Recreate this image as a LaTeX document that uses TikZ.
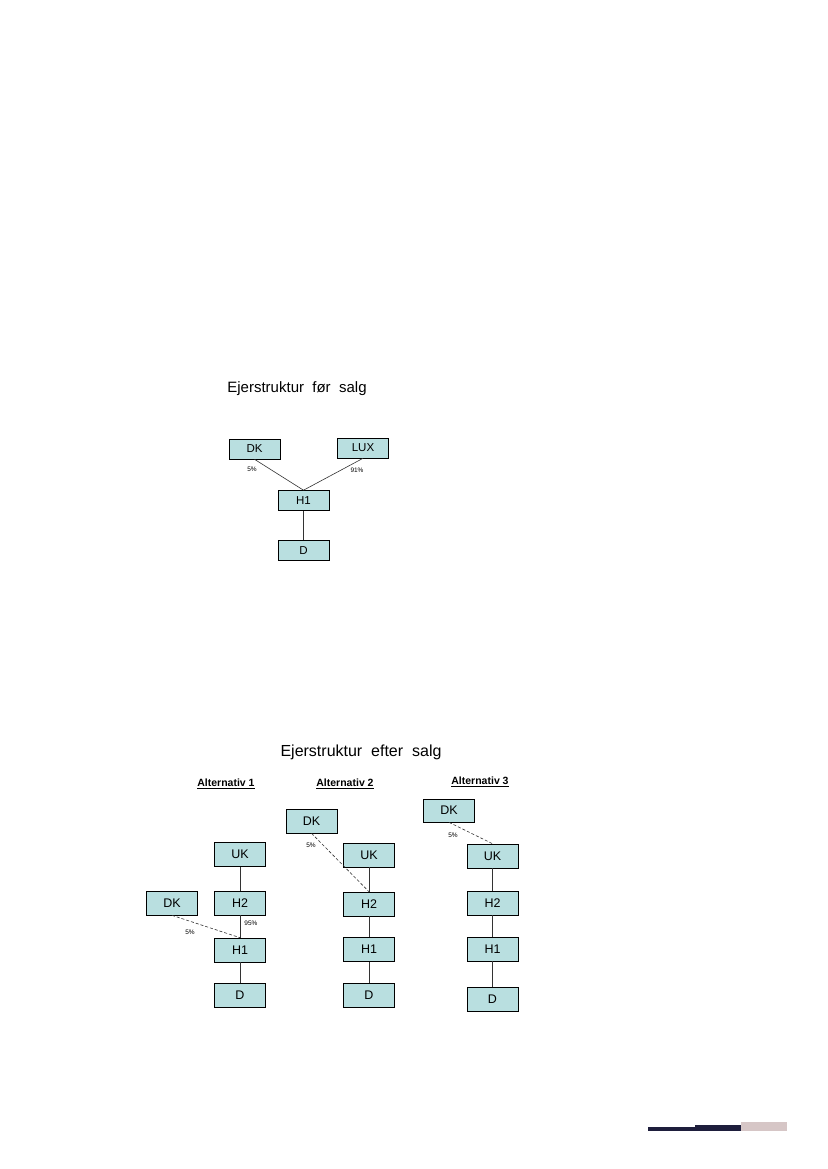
\documentclass[tikz,border=0pt]{standalone}
\usepackage{fontspec}
\setmainfont{Liberation Sans}
\begin{document}
\begin{tikzpicture}[x=1pt,y=-1pt,
  box/.style={draw=black,line width=0.6pt,fill=boxfill,minimum width=51pt,minimum height=20pt,inner sep=0pt,font=\fontsize{11.5}{13}\selectfont},
  bigbox/.style={box,minimum height=24pt,font=\fontsize{12.5}{14}\selectfont},
  link/.style={draw=black!80,line width=0.6pt},
  dlink/.style={link,dashed,dash pattern=on 3pt off 2pt},
  pct/.style={font=\fontsize{6.5}{7}\selectfont,inner sep=0pt},
  alt/.style={font=\bfseries\fontsize{10.5}{12}\selectfont,inner sep=0pt},
  title/.style={font=\fontsize{15}{17}\selectfont,inner sep=0pt}]
\definecolor{boxfill}{HTML}{B9DFE0}
\definecolor{navy}{HTML}{1E1E3C}
\definecolor{rose}{HTML}{D6C6C6}
\useasboundingbox[fill=white] (0,0) rectangle (827,1169);

% Top diagram
\node[title] (t1) at (297,389) {Ejerstruktur\ \ før\ \ salg};
\node[box] (dk0) at (254.5,449) {DK};
\node[box] (lux) at (363,448) {LUX};
\node[box] (h10) at (303.5,500.5) {H1};
\node[box] (d0) at (303.5,550.5) {D};
\draw[link] (dk0.south) -- (h10.north);
\draw[link] (lux.south) -- (h10.north);
\draw[link] (h10) -- (d0);
\node[pct] (p1) at (252,469) {5\%};
\node[pct] (p2) at (357,470) {91\%};

% Bottom diagram
\node[title,font=\fontsize{16}{18}\selectfont] (t2) at (361,752) {Ejerstruktur\ \ efter\ \ salg};
\node[alt] (a1) at (226,784) {\underline{Alternativ 1}};
\node[alt] (a2) at (345,784) {\underline{Alternativ 2}};
\node[alt] (a3) at (480,782) {\underline{Alternativ 3}};

% Alternativ 1
\node[bigbox] (uk1) at (240,854.5) {UK};
\node[bigbox] (h21) at (240,903) {H2};
\node[bigbox] (dk1) at (172,903) {DK};
\node[bigbox] (h11) at (240,950) {H1};
\node[bigbox] (d1) at (240,995.5) {D};
\draw[link] (uk1) -- (h21);
\draw[link] (h21) -- (h11);
\draw[link] (h11) -- (d1);
\draw[dlink] (dk1.south) -- (h11.north);
\node[pct] (p3) at (251,923) {95\%};
\node[pct] (p4) at (190,932) {5\%};

% Alternativ 2
\node[bigbox] (dk2) at (311.5,821) {DK};
\node[bigbox] (uk2) at (369,855) {UK};
\node[bigbox] (h22) at (369,904) {H2};
\node[bigbox] (h12) at (369,949.5) {H1};
\node[bigbox] (d2) at (369,995.5) {D};
\draw[link] (uk2) -- (h22);
\draw[link] (h22) -- (h12);
\draw[link] (h12) -- (d2);
\draw[dlink] (dk2.south) -- (h22.north);
\node[pct] (p5) at (311,845) {5\%};

% Alternativ 3
\node[bigbox,minimum height=23pt] (dk3) at (449,810.5) {DK};
\node[bigbox] (uk3) at (492.5,856) {UK};
\node[bigbox] (h23) at (492.5,903) {H2};
\node[bigbox] (h13) at (492.5,949) {H1};
\node[bigbox] (d3) at (492.5,999.5) {D};
\draw[link] (uk3) -- (h23);
\draw[link] (h23) -- (h13);
\draw[link] (h13) -- (d3);
\draw[dlink] (dk3.south) -- (uk3.north);
\node[pct] (p6) at (453,835) {5\%};

% Footer bars
\fill[navy] (648,1127) rectangle (695,1131);
\fill[navy] (695,1125) rectangle (741,1131);
\fill[rose] (741,1122) rectangle (787,1131);
\end{tikzpicture}
\end{document}
